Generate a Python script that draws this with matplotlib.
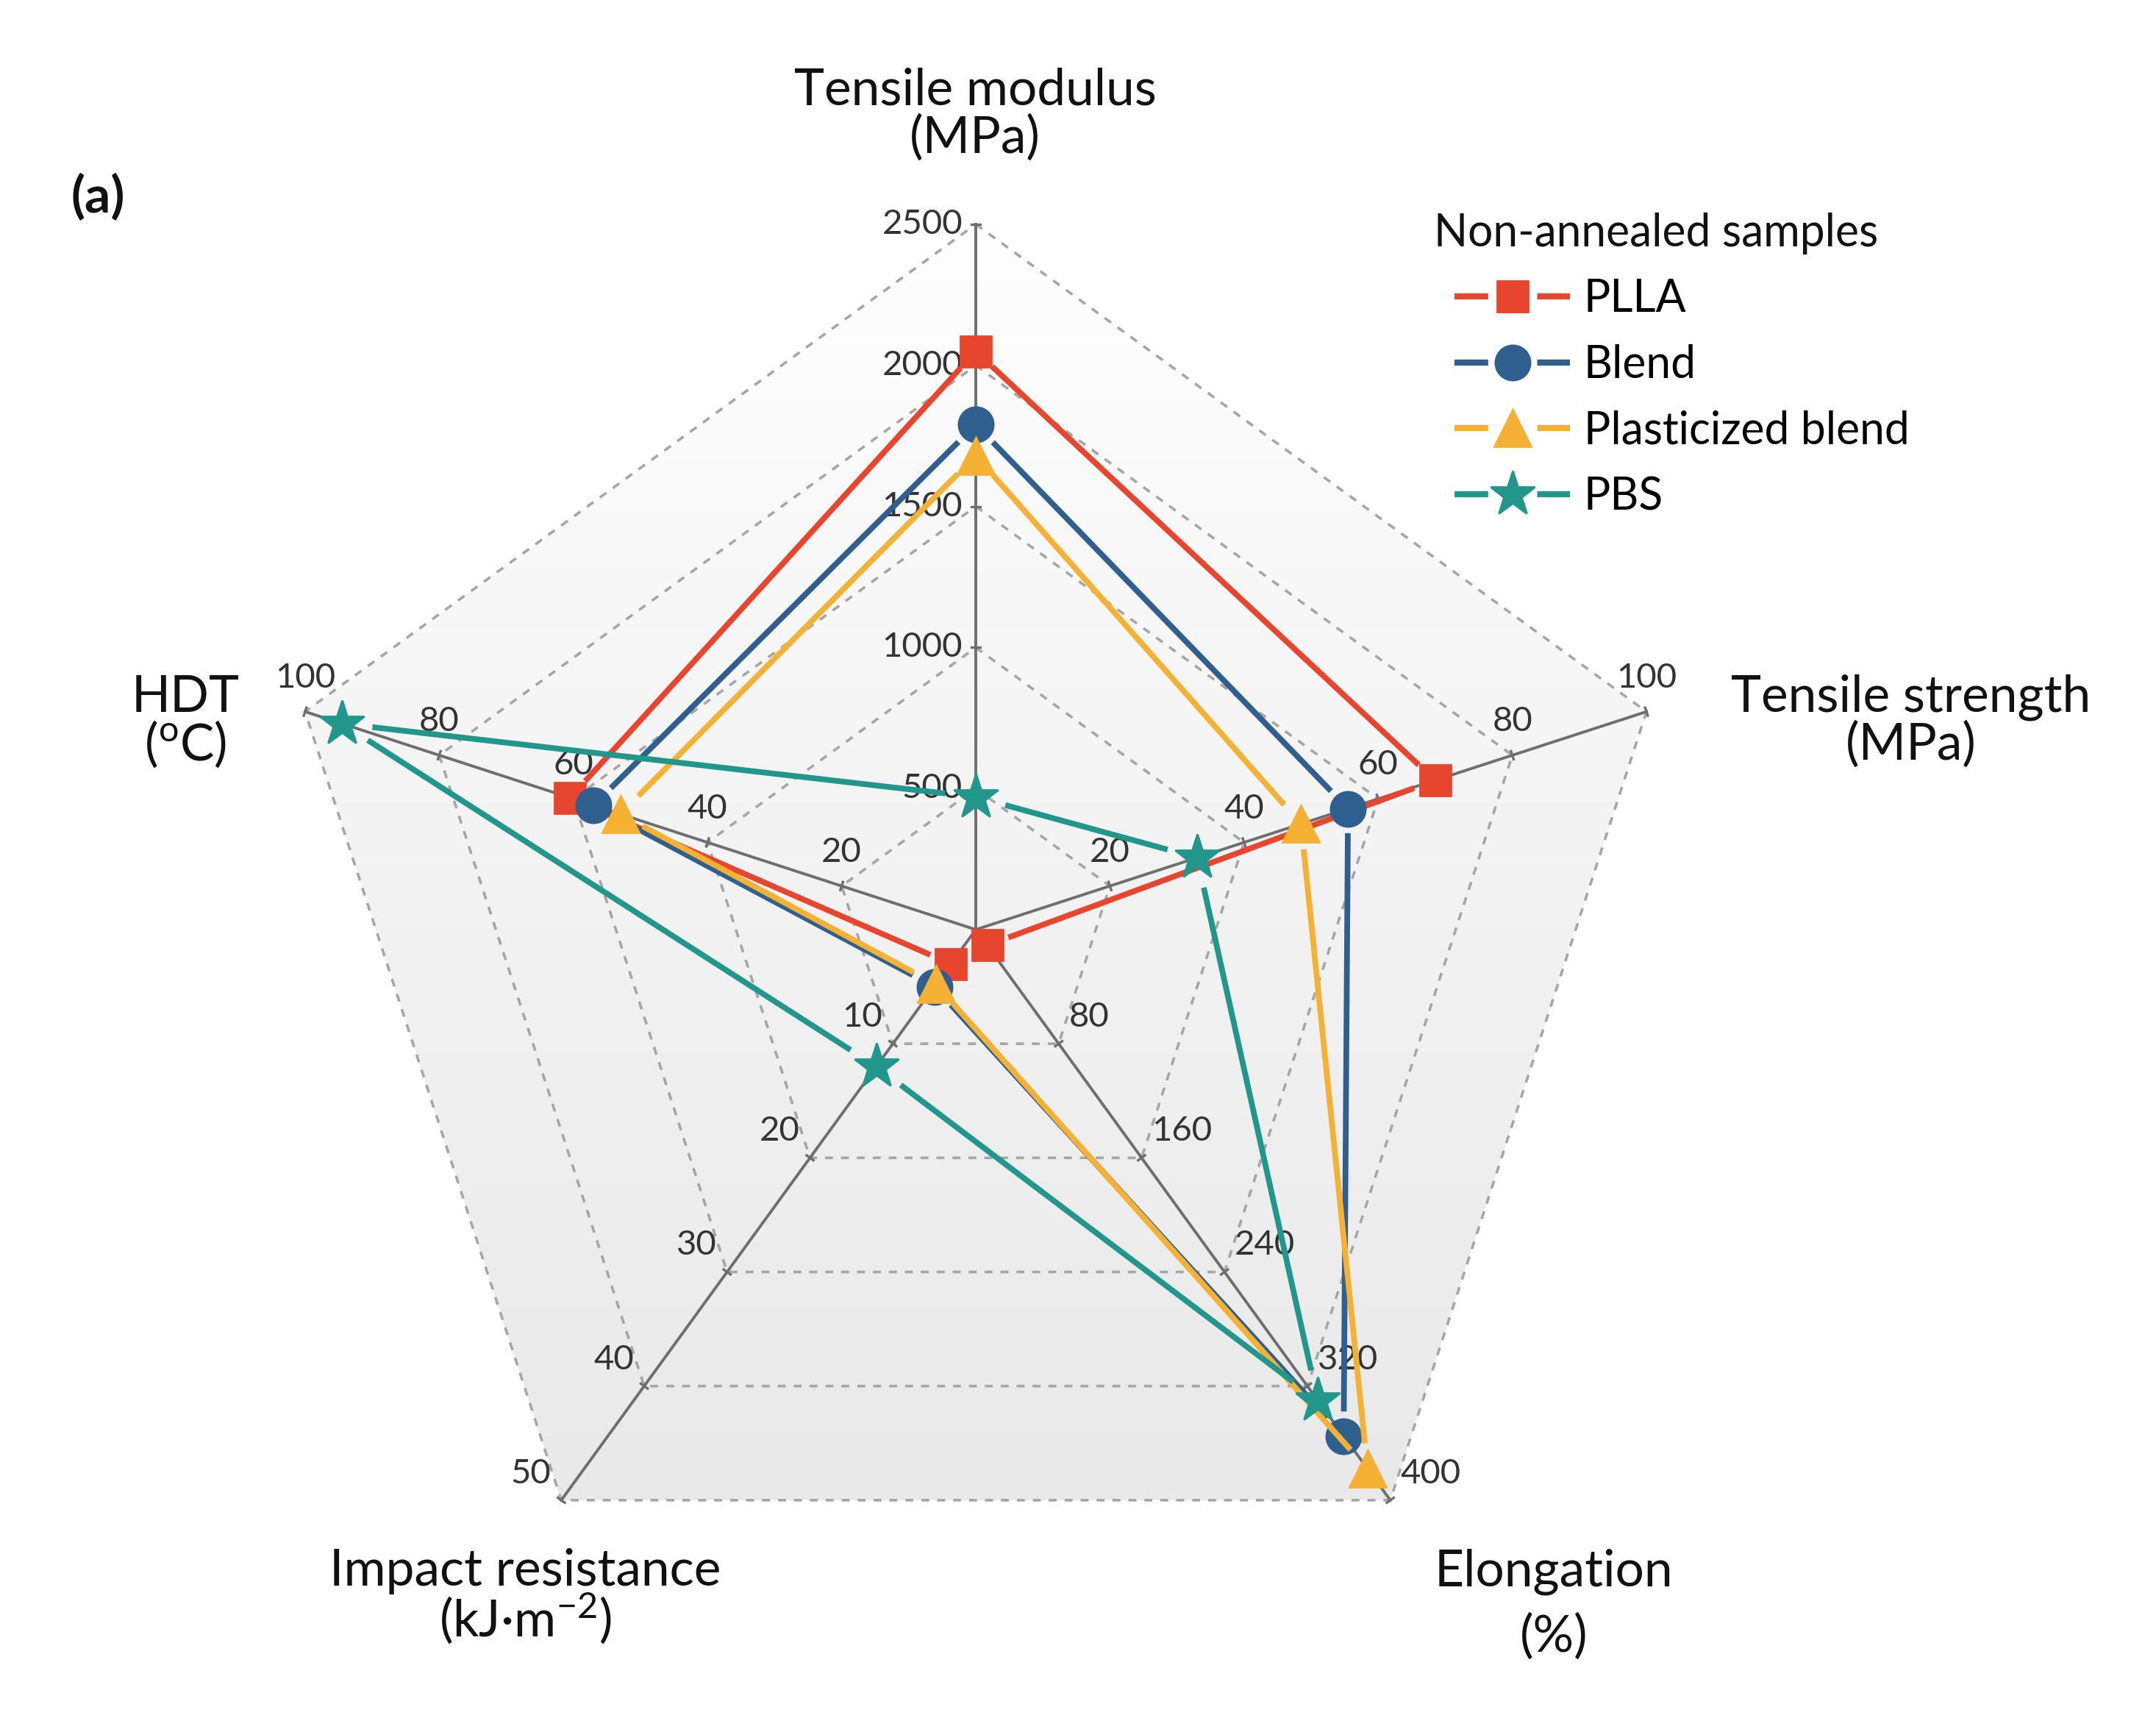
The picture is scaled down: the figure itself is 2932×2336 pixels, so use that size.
import numpy as np
import matplotlib.pyplot as plt
from matplotlib.lines import Line2D
from matplotlib.patches import Polygon
from matplotlib.colors import LinearSegmentedColormap

plt.rcParams['font.family'] = ['Lato', 'DejaVu Sans']
plt.rcParams['mathtext.fontset'] = 'custom'
plt.rcParams['mathtext.rm'] = 'Lato'
plt.rcParams['mathtext.it'] = 'Lato:italic'

# radar axes, clockwise from the top
AXIS_MAX = [2500, 100, 400, 50, 100]
AXIS_ANGLES = [90, 18, -54, -126, 162]
AXIS_TICKS = [
    [500, 1000, 1500, 2000, 2500],
    [20, 40, 60, 80, 100],
    [80, 160, 240, 320, 400],
    [10, 20, 30, 40, 50],
    [20, 40, 60, 80, 100],
]

# samples
SAMPLES = ["PLLA", "Blend", "Plasticized blend", "PBS"]
tensile_modulus = [2050, 1790, 1680, 470]
tensile_strength = [68.5, 55.5, 48.5, 33]
elongation = [11, 355, 378, 330]
impact_resistance = [3.0, 5.0, 4.8, 12]
hdt = [60.5, 57, 53, 94.5]

COLORS = ["#E8452E", "#2F5F8E", "#F5B133", "#21968A"]
MARKERS = ["s", "o", "^", "*"]
MSIZES = [15, 17, 18, 23]

W, H = 2932, 2336
CX, CY, R = 1327, 1264, 959          # centre and radius in pixels
PT_PER_UNIT = R * 72 / 200

SPOKE = "#6e6e6e"
GRID = "#a6a6a6"
TITLE_FS = 25
LEGEND_FS = 21.8


def fig_xy(px, py):
    return px / W, 1 - py / H


theta = np.deg2rad(AXIS_ANGLES)
ux, uy = np.cos(theta), np.sin(theta)

fig = plt.figure(figsize=(W / 200, H / 200), dpi=200)
fig.patch.set_facecolor("white")
ax = fig.add_axes([0, 0, 1, 1])
ax.axis("off")

# shaded plot area (light grey gradient inside the outer pentagon)
outer = np.column_stack([ux, uy])
pent = Polygon(outer, closed=True, fc="none", ec="none")
ax.add_patch(pent)
grad = np.linspace(0, 1, 256).reshape(-1, 1)
cmap = LinearSegmentedColormap.from_list("bg", ["#e9e9e9", "#f3f3f3", "#fefefe"])
im = ax.imshow(grad, extent=(ux.min(), ux.max(), uy.min(), uy.max()),
               origin="lower", cmap=cmap, aspect="auto", zorder=0)
im.set_clip_path(pent)

# dashed pentagon grid
for lev in [0.2, 0.4, 0.6, 0.8, 1.0]:
    ax.plot(np.append(ux, ux[0]) * lev, np.append(uy, uy[0]) * lev,
            color=GRID, lw=1.3, dashes=(3, 3), zorder=1)

# spokes, small ticks and tick labels
label_style = [
    dict(ha="right", va="center", off=(-6.5, 0)),
    dict(ha="center", va="center", off=(0, 16.5)),
    dict(ha="left", va="center", off=(5, 13)),
    dict(ha="right", va="center", off=(-5, 13)),
    dict(ha="center", va="center", off=(0, 16.5)),
]
for k in range(5):
    ax.plot([0, ux[k]], [0, uy[k]], color=SPOKE, lw=1.4, zorder=2)
    px, py = -uy[k], ux[k]
    for t in AXIS_TICKS[k]:
        r = t / AXIS_MAX[k]
        ax.plot([r * ux[k] - 0.006 * px, r * ux[k] + 0.006 * px],
                [r * uy[k] - 0.006 * py, r * uy[k] + 0.006 * py],
                color=SPOKE, lw=1.2, zorder=2)
        st = label_style[k]
        ax.annotate(str(t), (r * ux[k], r * uy[k]), xytext=st["off"],
                    textcoords="offset points", ha=st["ha"], va=st["va"],
                    fontsize=17, color="#333333", zorder=3)

# data series
values = np.array([tensile_modulus, tensile_strength, elongation,
                   impact_resistance, hdt], dtype=float).T
for i, name in enumerate(SAMPLES):
    r = values[i] / np.array(AXIS_MAX)
    xs, ys = r * ux, r * uy
    trim = (MSIZES[i] / 2 + 3.5) / PT_PER_UNIT
    for k in range(5):
        x0, y0 = xs[k], ys[k]
        x1, y1 = xs[(k + 1) % 5], ys[(k + 1) % 5]
        L = np.hypot(x1 - x0, y1 - y0)
        if L <= 2 * trim:
            continue
        dx, dy = (x1 - x0) / L, (y1 - y0) / L
        ax.plot([x0 + dx * trim, x1 - dx * trim], [y0 + dy * trim, y1 - dy * trim],
                color=COLORS[i], lw=2.8, solid_capstyle="butt", zorder=4 + 2 * i)
    ax.plot(xs, ys, ls="none", marker=MARKERS[i], ms=MSIZES[i],
            color=COLORS[i], mec=COLORS[i], zorder=5 + 2 * i)

ax.set_xlim(-CX / R, (W - CX) / R)
ax.set_ylim(-(H - CY) / R, CY / R)

# axis titles
titles = [
    ("Tensile modulus", 1326, 123), ("(MPa)", 1326, 187),
    ("Tensile strength", 2599, 948), ("(MPa)", 2599, 1012),
    ("Elongation", 2113, 2137), ("(%)", 2113, 2225),
    ("Impact resistance", 714, 2136), ("(kJ·m$^{-2}$)", 714, 2201),
    ("HDT", 252, 948), ("($^{\\mathrm{o}}$C)", 252, 1012),
]
for txt, px, py in titles:
    fig.text(*fig_xy(px, py), txt, ha="center", va="center",
             fontsize=TITLE_FS, color="#111111")

fig.text(*fig_xy(133, 268), "(a)", ha="center", va="center",
         fontsize=25, fontweight="bold", color="#111111")

# legend
fig.text(*fig_xy(1950, 318), "Non-annealed samples", ha="left", va="center",
         fontsize=LEGEND_FS, color="#111111")
handles = [Line2D([], [], color=COLORS[i], lw=3, marker=MARKERS[i], ms=MSIZES[i],
                  mec=COLORS[i], dashes=(5.5, 8.0)) for i in range(4)]
fig.legend(handles, SAMPLES, loc="upper left",
           bbox_to_anchor=fig_xy(1978, 378), frameon=False, fontsize=LEGEND_FS,
           handlelength=2.6, handletextpad=0.3, labelspacing=0.54,
           borderpad=0, borderaxespad=0, numpoints=1)

fig.savefig("out.png", dpi=200)
